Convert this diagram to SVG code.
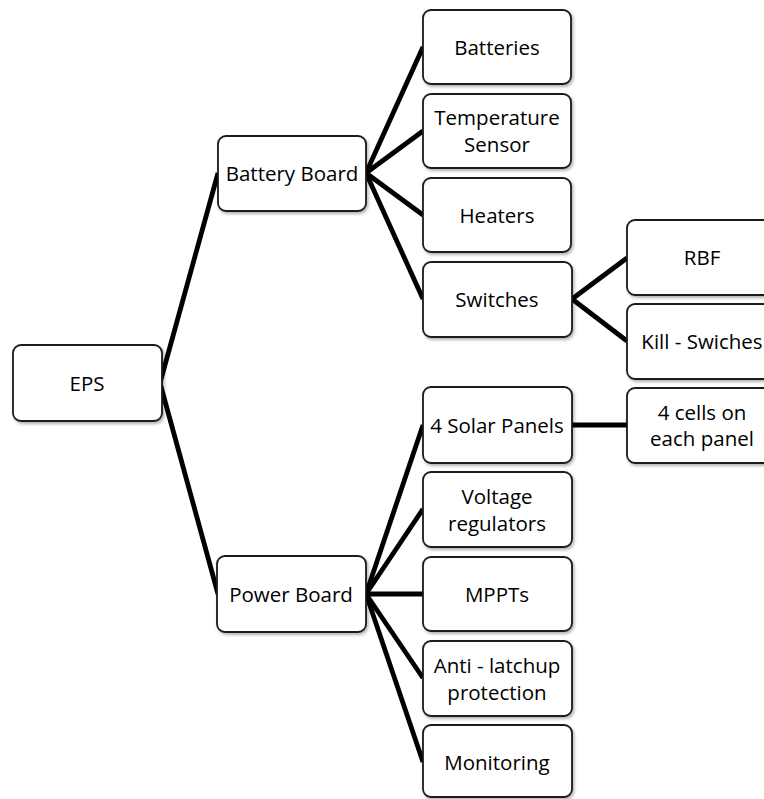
<svg xmlns="http://www.w3.org/2000/svg" width="764" height="799" viewBox="0 0 764 799">
<style>
.box{fill:#fff;stroke:#1a1a1a;stroke-width:1.8;filter:url(#sh)}
.t{font-family:"Open Sans","Liberation Sans",sans-serif;font-size:20.5px;fill:#000;text-anchor:middle;dominant-baseline:central}
.c{stroke:#000;stroke-width:4.8;fill:none;stroke-linecap:butt}
</style>
<defs>
<filter id="sh" x="-10%" y="-10%" width="125%" height="130%">
<feDropShadow dx="1.5" dy="2" stdDeviation="1.5" flood-color="#000" flood-opacity="0.3"/>
</filter>
</defs>
<rect width="764" height="799" fill="#fff"/>
<g id="connectors">
<line class="c" x1="160" y1="383" x2="218" y2="173"/>
<line class="c" x1="160" y1="383" x2="218" y2="594"/>
<line class="c" x1="366" y1="173" x2="423" y2="47"/>
<line class="c" x1="366" y1="173" x2="423" y2="131"/>
<line class="c" x1="366" y1="173" x2="423" y2="215"/>
<line class="c" x1="366" y1="173" x2="423" y2="299"/>
<line class="c" x1="572" y1="299" x2="627" y2="258"/>
<line class="c" x1="572" y1="299" x2="627" y2="341"/>
<line class="c" x1="366" y1="594" x2="423" y2="425"/>
<line class="c" x1="366" y1="594" x2="423" y2="509"/>
<line class="c" x1="366" y1="594" x2="423" y2="594"/>
<line class="c" x1="366" y1="594" x2="423" y2="678"/>
<line class="c" x1="366" y1="594" x2="423" y2="762"/>
<line class="c" x1="572" y1="425" x2="627" y2="425"/>
</g>
<g id="eps"><rect class="box" x="13" y="345" width="149" height="76" rx="8"/><text class="t" x="87" y="383">EPS</text></g>
<g id="battery-board"><rect class="box" x="218" y="136" width="148" height="75" rx="8"/><text class="t" x="292" y="173">Battery Board</text></g>
<g id="power-board"><rect class="box" x="217" y="556" width="149" height="76" rx="8"/><text class="t" x="291" y="594">Power Board</text></g>
<g id="batteries"><rect class="box" x="423" y="10" width="148" height="74" rx="8"/><text class="t" x="497" y="47">Batteries</text></g>
<g id="temperature-sensor"><rect class="box" x="423" y="94" width="148" height="74" rx="8"/><text class="t" x="497" y="117">Temperature</text><text class="t" x="497" y="144">Sensor</text></g>
<g id="heaters"><rect class="box" x="423" y="178" width="148" height="74" rx="8"/><text class="t" x="497" y="215">Heaters</text></g>
<g id="switches"><rect class="box" x="423" y="262" width="149" height="75" rx="8"/><text class="t" x="497" y="299">Switches</text></g>
<g id="rbf"><rect class="box" x="627" y="220" width="150" height="75" rx="8"/><text class="t" x="702" y="257">RBF</text></g>
<g id="kill-switches"><rect class="box" x="627" y="304" width="150" height="75" rx="8"/><text class="t" x="702" y="341">Kill - Swiches</text></g>
<g id="solar-panels"><rect class="box" x="423" y="387" width="149" height="76" rx="8"/><text class="t" x="497" y="425">4 Solar Panels</text></g>
<g id="cells"><rect class="box" x="627" y="388" width="150" height="75" rx="8"/><text class="t" x="702" y="412">4 cells on</text><text class="t" x="702" y="438">each panel</text></g>
<g id="voltage-regulators"><rect class="box" x="423" y="472" width="149" height="75" rx="8"/><text class="t" x="497" y="496">Voltage</text><text class="t" x="497" y="523">regulators</text></g>
<g id="mppts"><rect class="box" x="423" y="557" width="149" height="74" rx="8"/><text class="t" x="497" y="594">MPPTs</text></g>
<g id="anti-latchup"><rect class="box" x="423" y="641" width="149" height="75" rx="8"/><text class="t" x="497" y="665">Anti - latchup</text><text class="t" x="497" y="692">protection</text></g>
<g id="monitoring"><rect class="box" x="423" y="725" width="149" height="72" rx="8"/><text class="t" x="497" y="762">Monitoring</text></g>
</svg>
